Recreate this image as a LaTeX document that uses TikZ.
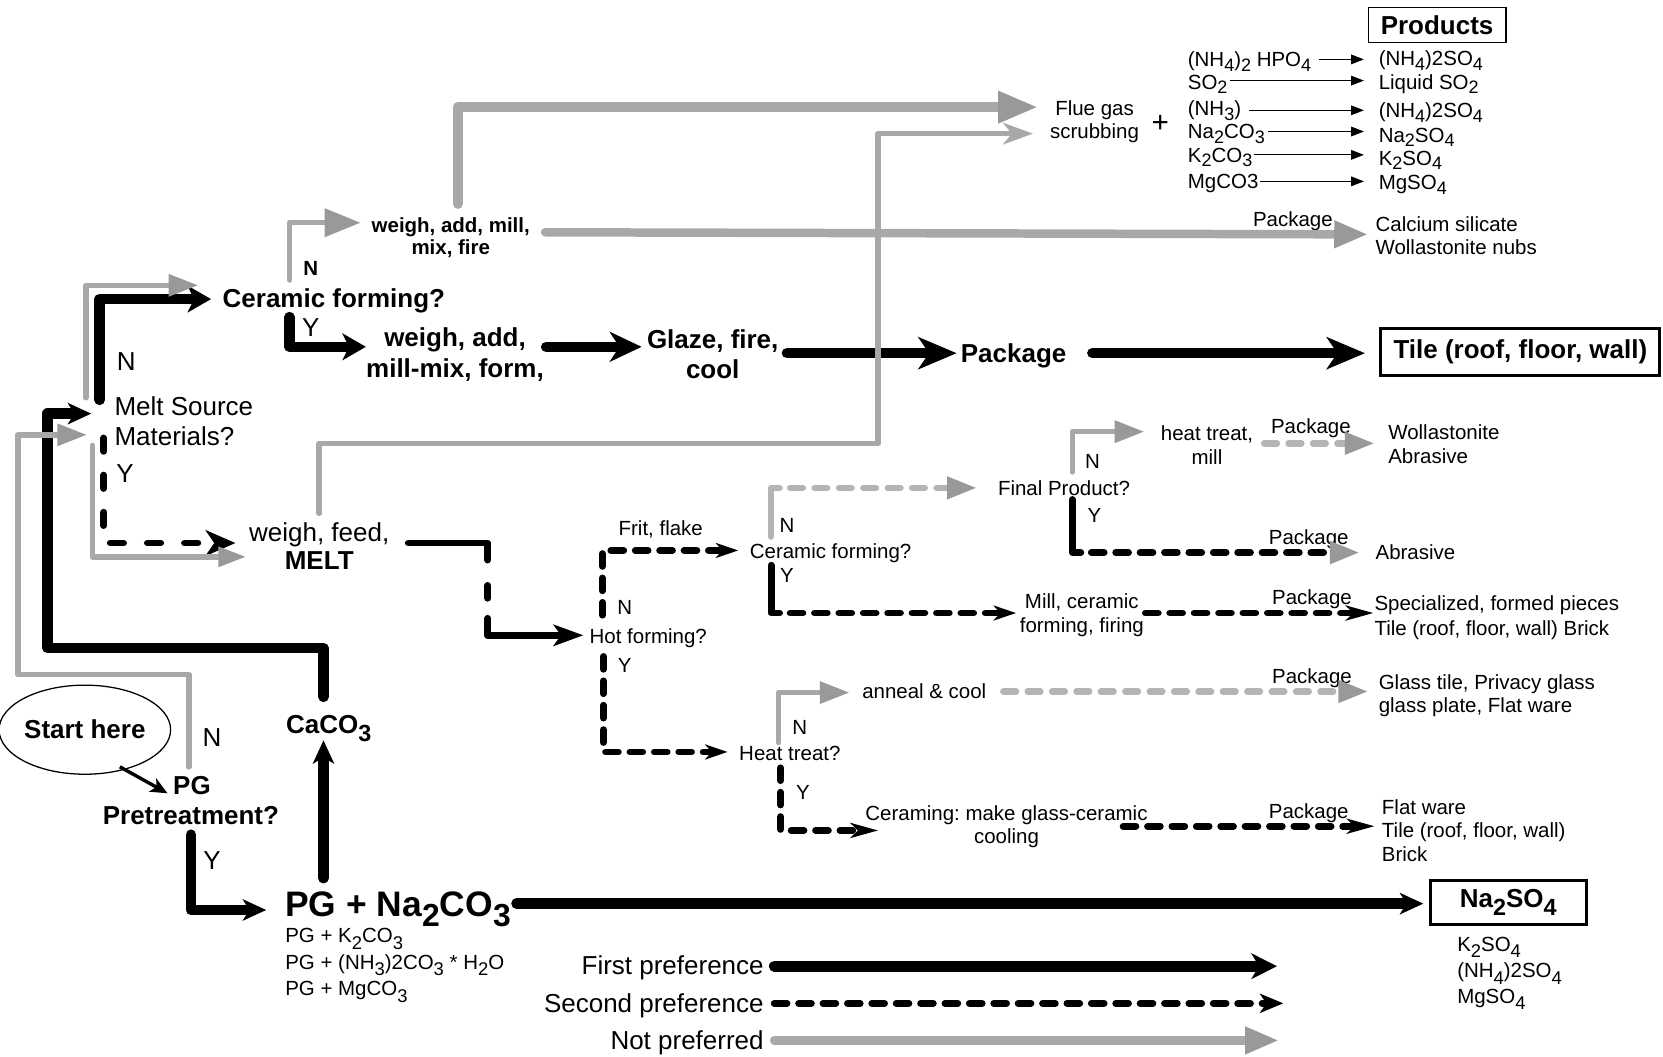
\documentclass[tikz,border=0pt]{standalone}
\usepackage{fontspec}
\setmainfont{Liberation Sans}
\usepackage{graphicx}
\usetikzlibrary{arrows.meta,shapes.geometric}
\definecolor{gline}{HTML}{A8A8A8}
\definecolor{ghead}{HTML}{999999}
\definecolor{gdash}{HTML}{B4B4B4}
\newcommand\lowr[1]{\raisebox{-0.3em}{\scalebox{0.9}{#1}}}
\newcommand\lowS[1]{\raisebox{-0.22em}{\scalebox{0.88}{#1}}}
\newcommand\fL{\fontsize{12.25pt}{14pt}\selectfont}
\newcommand\fS{\fontsize{9.65pt}{11pt}\selectfont}
\newcommand\fX{\fontsize{16.7pt}{19pt}\selectfont}
\frenchspacing
\tikzset{
  txt/.style={inner sep=0pt, outer sep=0pt},
  sm/.style={txt, font=\fS},
  smb/.style={txt, font=\fS\bfseries},
  lg/.style={txt, font=\fL},
  lgb/.style={txt, font=\fL\bfseries},
  bthick/.style={draw=black, line width=5pt, line cap=round, line join=round},
  bsol/.style={draw=black, line width=3.25pt, line cap=round, line join=round},
  bdash/.style={bsol, dash pattern=on 6pt off 5.5pt},
  bdashL/.style={bsol, dash pattern=on 6.25pt off 11.25pt},
  gthick/.style={draw=gline, line width=5pt, line cap=round, line join=round},
  gmid/.style={draw=gline, line width=4pt, line cap=round, line join=round},
  gthin/.style={draw=gline, line width=2.6pt, line cap=round, line join=round},
  gdsol/.style={draw=gdash, line width=3pt, line cap=round, line join=round},
  gdashed/.style={gdsol, dash pattern=on 6pt off 5.5pt},
  thinarr/.style={draw=black, line width=0.6pt, -{Triangle[length=6pt,width=4.5pt]}},
  tipB/.style={-{Stealth[length=18pt,width=15pt,inset=5pt]}},
  tipL/.style={-{Stealth[length=15pt,width=14pt,inset=4.5pt]}},
  tipM/.style={-{Stealth[length=12pt,width=12pt,inset=3.5pt]}},
  tipC/.style={-{Stealth[length=11pt,width=12.5pt,inset=3pt]}},
  tipK/.style={-{Stealth[length=11pt,width=10pt,inset=3pt]}},
  tipS/.style={-{Stealth[length=10.5pt,width=7pt,inset=3pt]}},
  tipS2/.style={-{Stealth[length=13pt,width=7pt,inset=3.5pt]}},
  gtri/.style={-{Triangle[length=14pt,width=10pt,color=ghead]}},
  gtriM/.style={-{Triangle[length=16pt,width=12pt,color=ghead]}},
  gtriBig/.style={-{Triangle[length=19pt,width=14pt,color=ghead]}},
}
\begin{document}
\begin{tikzpicture}[x=0.5pt,y=-0.5pt]
\fill[white] (0,0) rectangle (1568,996);
\useasboundingbox (0,0) rectangle (1568,996);

% ---------- text nodes ----------
\node[lgb, draw, line width=0.6pt, minimum width=65pt, minimum height=16.5pt] (products) at (1355,23.5) {Products};
\node[sm, anchor=base west] (r1) at (1120,63) {(NH\lowS{4})\lowS{2} HPO\lowS{4}};
\node[sm, anchor=base west] (r2) at (1120,84) {SO\lowS{2}};
\node[sm, anchor=base west] (r3) at (1120,109) {(NH\lowS{3})};
\node[sm, anchor=base west] (r4) at (1120,131) {Na\lowS{2}CO\lowS{3}};
\node[sm, anchor=base west] (r5) at (1120,153) {K\lowS{2}CO\lowS{3}};
\node[sm, anchor=base west] (r6) at (1120,178) {MgCO3};
\node[sm, anchor=base west] (p1) at (1300,62) {(NH\lowS{4})2SO\lowS{4}};
\node[sm, anchor=base west] (p2) at (1300,84) {Liquid SO\lowS{2}};
\node[sm, anchor=base west] (p3) at (1300,111) {(NH\lowS{4})2SO\lowS{4}};
\node[sm, anchor=base west] (p4) at (1300,134) {Na\lowS{2}SO\lowS{4}};
\node[sm, anchor=base west] (p5) at (1300,156) {K\lowS{2}SO\lowS{4}};
\node[sm, anchor=base west] (p6) at (1300,179) {MgSO\lowS{4}};
\node[sm, anchor=base] (flue1) at (1032,109) {Flue gas};
\node[sm, anchor=base] (flue2) at (1032,131) {scrubbing};
\node[txt, font=\fontsize{14pt}{16pt}\selectfont, anchor=base] (plus) at (1094,125) {+};
\node[sm, anchor=base] (pk1) at (1219,214) {Package};
\node[sm, anchor=base west] (cs1) at (1297,218) {Calcium silicate};
\node[sm, anchor=base west] (cs2) at (1297,240) {Wollastonite nubs};
\node[smb, anchor=base] (wam1) at (425,219) {weigh, add, mill,};
\node[smb, anchor=base] (wam2) at (425,240) {mix, fire};
\node[smb, anchor=base] (n1) at (293,260) {N};
\node[lgb, anchor=base west] (cf) at (210,290) {Ceramic forming?};
\node[lg, anchor=base] (y1) at (293,317) {Y};
\node[lgb, anchor=base] (wa1) at (429,327) {weigh, add,};
\node[lgb, anchor=base] (wa2) at (429,356) {mill-mix, form,};
\node[lgb, anchor=base] (gl1) at (672,329) {Glaze, fire,};
\node[lgb, anchor=base] (gl2) at (672,357) {cool};
\node[lgb, anchor=base west] (pkg) at (906,342) {Package};
\node[lgb, draw, line width=1.5pt, minimum width=131.5pt, minimum height=22pt] (tile) at (1433.5,332) {Tile (roof, floor, wall)};
\node[lg, anchor=base] (n2) at (119,349) {N};
\node[lg, anchor=base west] (ms1) at (108,392) {Melt Source};
\node[lg, anchor=base west] (ms2) at (108,420) {Materials?};
\node[lg, anchor=base] (y2) at (118,455) {Y};
\node[lg, anchor=base] (wf1) at (301,511) {weigh, feed,};
\node[lgb, anchor=base] (wf2) at (301,537) {MELT};
\node[sm, anchor=base] (frit) at (623,505) {Frit, flake};
\node[sm, anchor=base] (n3) at (742,502) {N};
\node[sm, anchor=base west] (cf2) at (707,527) {Ceramic forming?};
\node[sm, anchor=base] (y3) at (742,549) {Y};
\node[sm, anchor=base west] (fp) at (941,467) {Final Product?};
\node[sm, anchor=base] (n4) at (1030,442) {N};
\node[sm, anchor=base] (y4) at (1032,493) {Y};
\node[sm, anchor=base] (ht1) at (1138,415) {heat treat,};
\node[sm, anchor=base] (ht2) at (1138,438) {mill};
\node[sm, anchor=base] (pk2) at (1236,409) {Package};
\node[sm, anchor=base west] (wo1) at (1309,414) {Wollastonite};
\node[sm, anchor=base west] (wo2) at (1309,437) {Abrasive};
\node[sm, anchor=base] (pk3) at (1234,513) {Package};
\node[sm, anchor=base west] (ab) at (1297,528) {Abrasive};
\node[sm, anchor=base] (mc1) at (1020,574) {Mill, ceramic};
\node[sm, anchor=base] (mc2) at (1020,596) {forming, firing};
\node[sm, anchor=base] (pk4) at (1237,570) {Package};
\node[sm, anchor=base west] (sp1) at (1296,576) {Specialized, formed pieces};
\node[sm, anchor=base west] (sp2) at (1296,599) {Tile (roof, floor, wall) Brick};
\node[sm, anchor=base] (n5) at (589,579) {N};
\node[sm, anchor=base west] (hf) at (556,607) {Hot forming?};
\node[sm, anchor=base] (y5) at (589,634) {Y};
\node[sm, anchor=base west] (an) at (813,659) {anneal \& cool};
\node[sm, anchor=base] (pk5) at (1237,644) {Package};
\node[sm, anchor=base west] (gt1) at (1300,650) {Glass tile, Privacy glass};
\node[sm, anchor=base west] (gt2) at (1300,672) {glass plate, Flat ware};
\node[sm, anchor=base] (n6) at (754,693) {N};
\node[sm, anchor=base west] (htq) at (697,717) {Heat treat?};
\node[sm, anchor=base] (y6) at (757,754) {Y};
\node[sm, anchor=base] (cer1) at (949,774) {Ceraming: make glass-ceramic};
\node[sm, anchor=base] (cer2) at (949,795) {cooling};
\node[sm, anchor=base] (pk6) at (1234,772) {Package};
\node[sm, anchor=base west] (fw1) at (1303,768) {Flat ware};
\node[sm, anchor=base west] (fw2) at (1303,790) {Tile (roof, floor, wall)};
\node[sm, anchor=base west] (fw3) at (1303,812) {Brick};
\node[lgb, draw, ellipse, line width=0.6pt, minimum width=66pt, minimum height=42pt] (start) at (80,688) {Start here};
\node[lg, anchor=base] (n7) at (200,704) {N};
\node[lgb, anchor=base] (pg1) at (181,749) {PG};
\node[lgb, anchor=base] (pg2) at (180,777) {Pretreatment?};
\node[lg, anchor=base] (y7) at (200,820) {Y};
\node[lgb, anchor=base] (caco) at (310,692) {CaCO\lowr{3}};
\node[txt, font=\fX\bfseries, anchor=base west] (pgna) at (269,864) {PG + Na\lowr{2}CO\lowr{3}};
\node[sm, anchor=base west] (pgk) at (269,889) {PG + K\lowr{2}CO\lowr{3}};
\node[sm, anchor=base west] (pgn) at (269,914) {PG + (NH\lowr{3})2CO\lowr{3} * H\lowr{2}O};
\node[sm, anchor=base west] (pgm) at (269,939) {PG + MgCO\lowr{3}};
\node[lgb, draw, line width=1.5pt, minimum width=73.5pt, minimum height=20.5pt] (na) at (1422,851) {Na\lowr{2}SO\lowr{4}};
\node[sm, anchor=base west] (ks) at (1374,897) {K\lowr{2}SO\lowr{4}};
\node[sm, anchor=base west] (ns) at (1374,922) {(NH\lowr{4})2SO\lowr{4}};
\node[sm, anchor=base west] (mgs) at (1374,946) {MgSO\lowr{4}};
\node[lg, anchor=base east] (l1) at (720,919) {First preference};
\node[lg, anchor=base east] (l2) at (720,955) {Second preference};
\node[lg, anchor=base east] (l3) at (720,990) {Not preferred};

% ---------- thin black arrows (scrubbing) ----------
\draw[thinarr] (1244,56) -- (1286,56);
\draw[thinarr] (1160,76) -- (1286,76);
\draw[thinarr] (1178,104) -- (1286,104);
\draw[thinarr] (1196,124) -- (1286,124);
\draw[thinarr] (1182,146) -- (1286,146);
\draw[thinarr] (1188,171) -- (1286,171);
\draw[line width=1.6pt, -{Stealth[length=8pt,width=7pt,inset=2pt]}] (113,723) -- (158,748);

% ---------- black thick (first preference) ----------
\draw[bthick, tipK] (305,657) -- (305,611) -- (45,611) -- (45,390) -- (86,390);
\draw[bthick, tipC] (94,377) -- (94,282) -- (199,282);
\draw[bthick, tipC] (273,299) -- (273,327) -- (345,327);
\draw[bthick, tipL] (515,327) -- (605,327);
\draw[bthick, tipB] (742,333) -- (902,333);
\draw[bthick, tipB] (1030,333) -- (1287,333);
\draw[bthick, tipK] (180,787) -- (180,858) -- (251,858);
\draw[bthick, tipK] (305,828) -- (305,698);
\draw[bthick, tipK] (487,852) -- (1342,852);
\draw[bthick, tipM] (730,911) -- (1204,911);

% ---------- black dashed (second preference) ----------
\draw[bdashL, -{Stealth[length=14pt,width=12pt,inset=4pt]}] (98,413) -- (98,512) -- (222,512);
\draw[bsol] (385,512) -- (460,512) -- (460,528);
\draw[bsol] (460,552) -- (460,564);
\draw[bsol, -{Stealth[length=14pt,width=10pt,inset=3.5pt]}] (460,583) -- (460,599) -- (550,599);
\draw[bdash, tipS] (568,580) -- (568,519) -- (696,519);
\draw[bdash, tipS] (569,619) -- (569,709) -- (686,709);
\draw[bsol] (727,533) -- (727,578) -- (735,578);
\draw[bdash, tipS] (745,578) -- (958,578);
\draw[bsol] (1011,471) -- (1011,521) -- (1019,521);
\draw[bdash, gtri] (1029,521) -- (1282,521);
\draw[bdash, tipS2] (1080,578) -- (1295,578);
\draw[bdash, tipS2] (736,724) -- (736,783) -- (828,783);
\draw[bdash, tipS2] (1059,779) -- (1296,779);
\draw[bdash, -{Stealth[length=11pt,width=9pt,inset=3pt]}] (730,946) -- (1210,946);

% ---------- gray (not preferred) ----------
\draw[gthick, gtriBig] (432,192) -- (432,101) -- (979,101);
\draw[gthin, -{Stealth[length=14pt,width=10pt,inset=4pt,color=gline]}] (301,484) -- (301,418) -- (828,418) -- (828,126) -- (974,126);
\draw[gmid, gtriM] (514,219) -- (1290,221);
\draw[gthin, -{Triangle[length=17pt,width=13pt,color=ghead]}] (273,264) -- (273,210) -- (340,210);
\draw[gthin, gtri] (81,375) -- (81,269) -- (187,269);
\draw[gthin, gtri] (178,723) -- (178,636) -- (17,636) -- (17,410) -- (82,410);
\draw[gthin, -{Triangle[length=13pt,width=9pt,color=ghead]}] (87,420) -- (87,525) -- (232,525);
\draw[gthin, gtri] (1011,445) -- (1011,407) -- (1079,407);
\draw[gthin, gtri] (734,700) -- (734,653) -- (801,653);
\draw[gmid, gtriM] (730,981) -- (1206,981);

% ---------- gray dashed ----------
\draw[gdsol] (727,506) -- (727,460) -- (735,460);
\draw[gdashed, gtri] (745,460) -- (921,460);
\draw[gdashed, gtri] (1192,418) -- (1296,418);
\draw[gdashed, gtri] (946,652) -- (1290,652);
\end{tikzpicture}
\end{document}
